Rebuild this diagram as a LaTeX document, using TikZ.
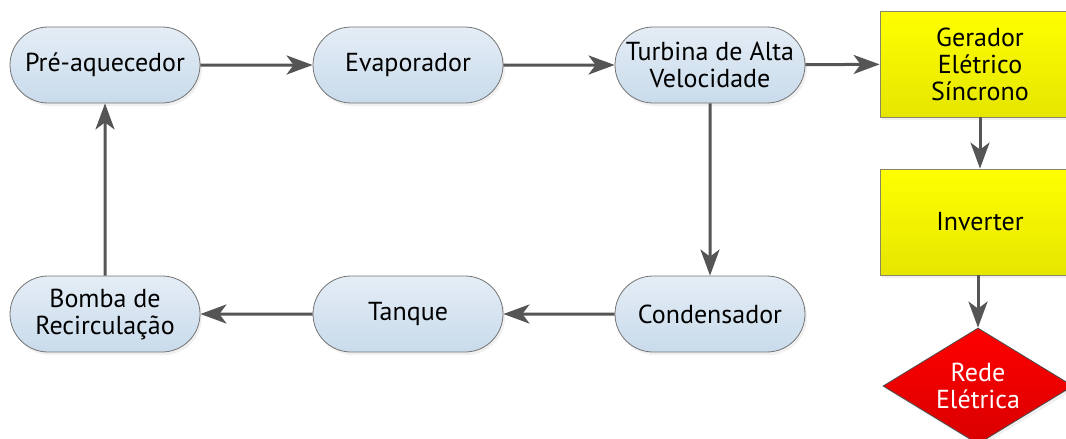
\documentclass[tikz,border=0pt]{standalone}
\usepackage{fontspec}
\setmainfont{PT Sans}
\usetikzlibrary{arrows.meta, shapes.misc, shapes.geometric, shadows}

\definecolor{pillTop}{HTML}{E4EDF6}
\definecolor{pillBot}{HTML}{C9DBEB}
\definecolor{lineGray}{HTML}{555555}

\begin{document}
\begin{tikzpicture}[x=1pt, y=-1pt,
    every node/.style={font=\fontsize{26}{27}\selectfont, align=center},
    proc/.style={rounded rectangle, draw=gray!90!black, line width=0.8pt,
        top color=pillTop, bottom color=pillBot,
        minimum width=190pt, minimum height=76pt, inner sep=0pt,
        drop shadow={opacity=0.12, shadow xshift=2pt, shadow yshift=-3pt}},
    elec/.style={rectangle, draw=black!55!yellow!60!gray, line width=0.8pt,
        top color=yellow, bottom color=yellow!90!black,
        minimum width=200pt, minimum height=106pt, inner sep=0pt,
        drop shadow={opacity=0.12, shadow xshift=2pt, shadow yshift=-3pt}},
    grid/.style={diamond, aspect=1.65, draw=gray!60!black, line width=0.8pt,
        top color=red, bottom color=red!85!black, text=white,
        minimum width=190pt, minimum height=116pt, inner sep=-6pt,
        drop shadow={opacity=0.12, shadow xshift=2pt, shadow yshift=-3pt}},
    flow/.style={draw=lineGray, line width=3pt,
        -{Stealth[length=26pt, width=19pt, inset=7pt]}}]
    \useasboundingbox (0,0) rectangle (1066,439);
    \clip (0,0) rectangle (1066,439);
    % ciclo
    \node [proc] (preaq) at (105,65) {Pré-aquecedor};
    \node [proc] (evap) at (408,65) {Evaporador};
    \node [proc] (turb) at (710,65) {Turbina de Alta\\Velocidade};
    \node [proc] (cond) at (710,314) {Condensador};
    \node [proc] (tanq) at (408,314) {Tanque};
    \node [proc] (bomba) at (105,314) {Bomba de\\Recirculação};
    % parte elétrica
    \node [elec] (ger) at (980,64) {Gerador\\Elétrico\\Síncrono};
    \node [elec] (inv) at (980,222) {Inverter};
    \node [grid] (rede) at (978,386) {Rede\\Elétrica};
    % ligações
    \draw [flow] (preaq) -- (evap);
    \draw [flow] (evap) -- (turb);
    \draw [flow] (turb) -- (ger);
    \draw [flow] (turb) -- (cond);
    \draw [flow] (cond) -- (tanq);
    \draw [flow] (tanq) -- (bomba);
    \draw [flow] (bomba) -- (preaq);
    \draw [flow] (ger) -- (inv);
    \draw [flow] (inv.south -| rede.north) -- (rede.north);
\end{tikzpicture}
\end{document}
